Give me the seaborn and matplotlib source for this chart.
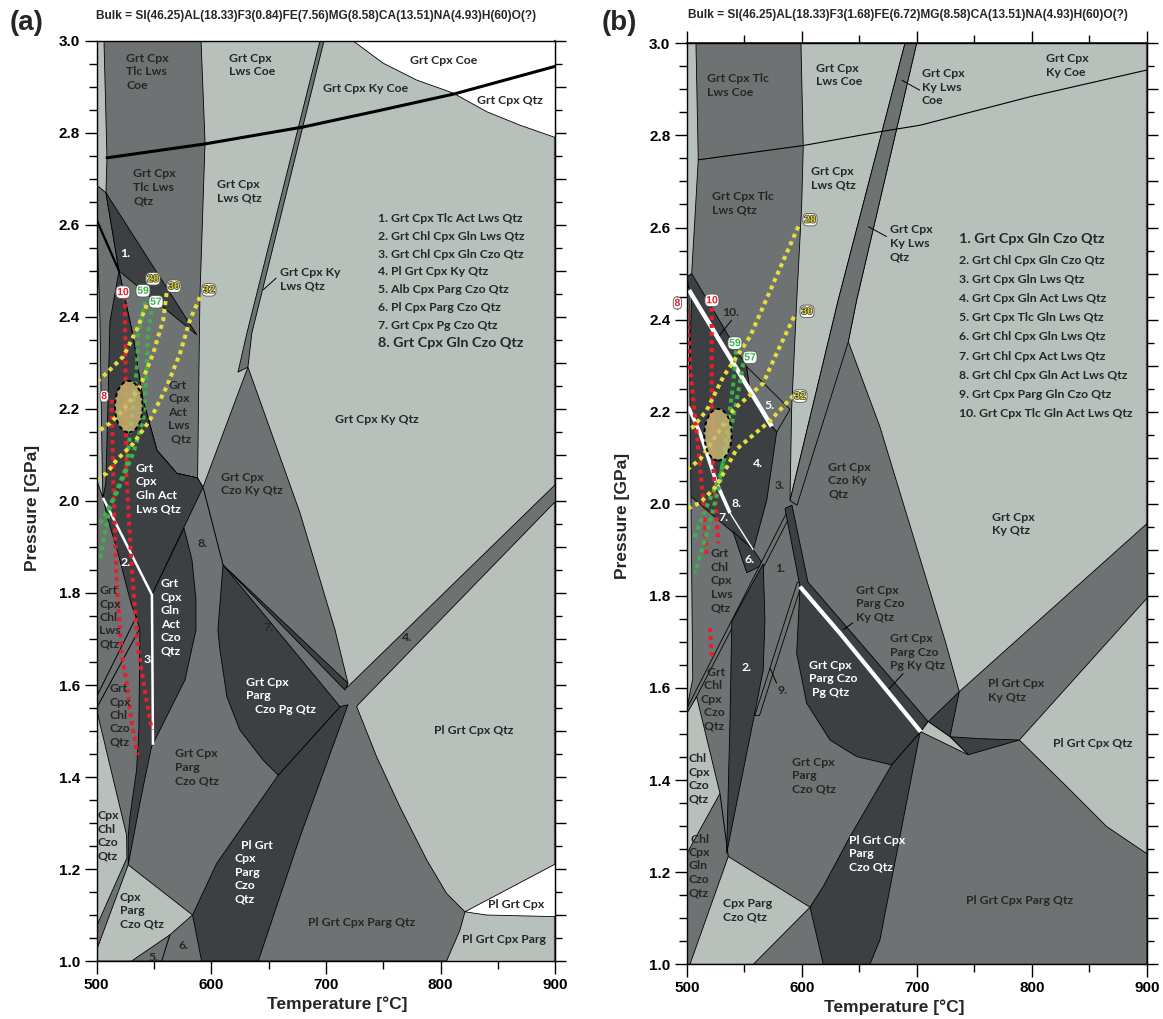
import matplotlib
matplotlib.use("Agg")
import matplotlib.pyplot as plt
import matplotlib.patheffects as pe
from matplotlib.patches import Ellipse
from matplotlib.ticker import MultipleLocator, FormatStrFormatter
import seaborn as sns

sns.set_theme(style="ticks")
plt.rcParams["font.family"] = ["Liberation Sans", "DejaVu Sans"]
plt.rcParams["font.weight"] = "bold"
plt.rcParams["axes.labelweight"] = "bold"

LIGHT = "#b8c0bb"
MID = "#6f7273"
DARK = "#3d4043"
WHITE = "#ffffff"
TXT_D = "#262626"
TXT_W = "#ffffff"
RED = "#e3202b"
GREEN = "#3cb24a"
YELLOW = "#e4df3c"
LABEL_FONT = ["Lato", "DejaVu Sans"]

# ---------------- panel (a): assemblage fields, (T [°C], P [GPa]) vertices ----------------
a_column = [(506.4, 3.0), (591, 3.0), (594.5, 2.78), (590, 2.44), (588, 2.05), (570, 2.06),
            (552.6, 2.11), (540.4, 2.22), (531.6, 2.36), (519.5, 2.50), (508.1, 2.67), (509, 2.746)]
a_lower = [(500, 2.687), (508.1, 2.67), (519.5, 2.50), (531.6, 2.36), (540.4, 2.22), (552.6, 2.11),
           (570, 2.06), (588, 2.05), (592.7, 2.03), (631.9, 2.291), (677.3, 1.974), (707.8, 1.72),
           (719.1, 1.604), (717.6, 1.593), (900, 2.036), (900, 1.999), (727.8, 1.557), (726.7, 1.553),
           (744.1, 1.444), (764.4, 1.335), (787.7, 1.22), (805.1, 1.147), (821.1, 1.107),
           (816.7, 1.067), (805.1, 1.0), (500, 1.0)]
a_ky_strip = [(694.7, 3.0), (698.2, 3.0), (635.3, 2.365), (631.9, 2.291), (623.2, 2.28), (631.0, 2.365)]
a_wedge1 = [(508.1, 2.67), (587.4, 2.361), (519.5, 2.50)]
a_gln_act_lws = [(519.5, 2.50), (531.6, 2.36), (540.4, 2.22), (552.6, 2.11), (570, 2.06), (588, 2.05),
                 (592.7, 2.03), (548.2, 1.796), (505.5, 2.007), (508.1, 2.04), (511.6, 2.39)]
a_gln_czo = [(505.5, 2.007), (548.2, 1.796), (576.2, 1.941), (583.1, 1.872), (586.6, 1.785),
             (586.6, 1.72), (577, 1.611), (559.5, 1.524), (547.9, 1.466), (543.6, 1.415),
             (537.7, 1.343), (530.5, 1.248), (527.5, 1.209), (527.5, 1.27), (529, 1.313),
             (534.8, 1.415), (536.8, 1.502), (537.7, 1.72), (534.3, 1.748), (529.9, 1.778),
             (518.6, 1.887), (509.9, 1.959)]
a_pl_parg_czo = [(583.6, 1.1), (591.5, 1.0), (640.9, 1.0), (677.3, 1.27), (719.1, 1.557),
                 (712.2, 1.553), (658.3, 1.404), (604.6, 1.212)]
a_pg_czo = [(610.2, 1.861), (605.7, 1.72), (607.5, 1.676), (613.6, 1.574), (624.9, 1.502),
            (645, 1.437), (658.3, 1.404), (712.2, 1.553)]
a_pg_strip = [(610.2, 1.861), (719.1, 1.604), (716.5, 1.589)]
a_sliver = [(500, 2.611), (502.9, 2.393), (505, 2.05), (505.5, 2.007), (500, 2.046)]
a_cpx_chl_czo = [(500, 1.546), (526.1, 1.274), (526.4, 1.224), (500, 1.076)]
a_cpx_parg_czo = [(527.5, 1.209), (583.6, 1.1), (563.9, 1.057), (530.5, 1.0), (500, 1.0), (500, 1.024)]
a_coe_white = [(723.7, 3.0), (749.6, 2.952), (779, 2.915), (810.6, 2.887), (840.3, 2.846),
               (869, 2.817), (900, 2.79), (900, 3.0)]
a_pl_white = [(821.1, 1.107), (840, 1.1), (900, 1.0965), (900, 1.211)]

a_coe_qtz_T = [509, 594, 680, 745, 812, 900]
a_coe_qtz_P = [2.746, 2.776, 2.813, 2.848, 2.885, 2.945]
a_white_line = [(505.5, 2.007), (548.2, 1.796), (549.1, 1.47)]
a_black_lines = [
    [(500, 2.611), (519.5, 2.50)],
    [(593, 2.028), (610.2, 1.861)],
    [(500, 1.575), (535, 1.75)],
    [(500, 1.55), (537, 1.72)],
    [(556.7, 1.0), (563.9, 1.057)],
    [(656.7, 2.485), (645.2, 2.459)],
]

# sample P-T paths, panel (a)
a_red_8 = ([513.1, 514.5, 517.4, 521.8, 526.2, 529.9, 535.7], [2.22, 2.046, 1.828, 1.665, 1.607, 1.528, 1.448])
a_red_10 = ([524.5, 526, 530.4, 536.2, 542, 548], [2.463, 2.053, 1.864, 1.676, 1.589, 1.502])
a_green_59 = ([542.1, 536.3, 534.9, 526.2, 511.6, 502.9], [2.433, 2.365, 2.285, 2.075, 1.988, 1.872])
a_green_57 = ([549.1, 544.7, 543.6, 540.6, 531.9, 517.4, 501.4], [2.43, 2.365, 2.285, 2.176, 2.104, 2.017, 1.944])
a_yellow_28 = ([543.6, 534.9, 523.2, 508.7, 500], [2.426, 2.372, 2.314, 2.278, 2.259])
a_yellow_30 = ([561, 558, 549.3, 537.7, 531.9, 523.2, 511.6, 502.9], [2.452, 2.393, 2.321, 2.248, 2.227, 2.198, 2.169, 2.154])
a_yellow_32 = ([590, 581.3, 572.7, 561, 546.5, 531.9, 517.4, 508.7, 500], [2.443, 2.393, 2.321, 2.248, 2.176, 2.125, 2.089, 2.06, 2.049])
a_badges = [("8", 506.6, 2.228, RED), ("10", 522.9, 2.454, RED), ("59", 540.4, 2.457, GREEN),
            ("57", 551.7, 2.433, GREEN), ("28", 549.1, 2.483, YELLOW), ("30", 567.4, 2.467, YELLOW),
            ("32", 597.9, 2.459, YELLOW)]
a_ellipse = (528.0, 2.205, 24.1, 0.112)

a_labels = [
    ("Grt Cpx\nTlc Lws\nCoe", 525.6, 2.974, TXT_D), ("Grt Cpx\nLws Coe", 615.6, 2.974, TXT_D),
    ("Grt Cpx Coe", 773.1, 2.97, TXT_D), ("Grt Cpx Ky Coe", 697, 2.908, TXT_D),
    ("Grt Cpx Qtz", 831.3, 2.883, TXT_D), ("Grt Cpx\nTlc Lws\nQtz", 531.9, 2.723, TXT_D),
    ("Grt Cpx\nLws Qtz", 605.2, 2.70, TXT_D), ("1.", 520.3, 2.55, TXT_W),
    ("Grt Cpx Ky\nLws Qtz", 659.8, 2.509, TXT_D), ("Grt Cpx Ky Qtz", 707.8, 2.19, TXT_D),
    ("Grt\nCpx\nAct\nLws\n Qtz", 562.4, 2.263, TXT_D), ("Grt Cpx\nCzo Ky Qtz", 608.1, 2.064, TXT_D),
    ("Grt\nCpx\nGln Act\nLws Qtz", 534.3, 2.083, TXT_W), ("8.", 587.7, 1.919, TXT_D),
    ("2.", 520.9, 1.879, TXT_W), ("Grt\nCpx\nGln\nAct\nCzo\nQtz", 556.1, 1.832, TXT_W),
    ("Grt\nCpx\nChl\nLws\nQtz", 502.3, 1.817, TXT_D), ("7.", 645.2, 1.738, TXT_D),
    ("4.", 765.9, 1.716, TXT_D), ("3.", 541.2, 1.667, TXT_W),
    ("Grt Cpx\nParg\n   Czo Pg Qtz", 630.2, 1.618, TXT_W), ("Grt\nCpx\nChl\nCzo\nQtz", 511, 1.604, TXT_D),
    ("Pl Grt Cpx Qtz", 794, 1.513, TXT_D), ("Grt Cpx\nParg\nCzo Qtz", 568.3, 1.462, TXT_D),
    ("Cpx\nChl\nCzo\nQtz", 500.6, 1.328, TXT_D), ("  Pl Grt\nCpx\nParg\nCzo\nQtz", 620.6, 1.263, TXT_W),
    ("Cpx\nParg\nCzo Qtz", 520.3, 1.151, TXT_D), ("Pl Grt Cpx Parg Qtz", 684.5, 1.096, TXT_D),
    ("Pl Grt Cpx", 841.4, 1.134, TXT_D), ("Pl Grt Cpx Parg", 818.7, 1.059, TXT_D),
    ("6.", 571.2, 1.046, TXT_D), ("5.", 545, 1.02, TXT_D),
]
a_key = ["1. Grt Cpx Tlc Act Lws Qtz", "2. Grt Chl Cpx Gln Lws Qtz", "3. Grt Chl Cpx Gln Czo Qtz",
         "4. Pl Grt Cpx Ky Qtz", "5. Alb Cpx Parg Czo Qtz", "6. Pl Cpx Parg Czo Qtz",
         "7. Grt Cpx Pg Czo Qtz", "8. Grt Cpx Gln Czo Qtz"]

# ---------------- panel (b) ----------------
b_main = [(500, 2.49), (504.1, 2.50), (507.8, 2.66), (509.8, 2.747), (507.8, 3.0), (599.1, 3.0),
          (601.1, 2.775), (599.7, 2.645), (595.4, 2.44), (591.0, 2.205), (589.6, 2.007),
          (631.6, 2.443), (689.6, 3.0), (699.7, 3.0), (647.6, 2.443), (640.3, 2.352),
          (667.8, 2.167), (724.3, 1.704), (736.8, 1.592), (900, 1.957), (900, 1.795),
          (789, 1.487), (830.2, 1.386), (865, 1.299), (900, 1.24), (900, 1.0), (500, 1.0)]
b_ky_strip = [(689.6, 3.0), (699.7, 3.0), (647.6, 2.443), (640.3, 2.352), (595.7, 1.997),
              (589.6, 2.007), (631.6, 2.443)]
b_band10 = [(500, 2.493), (504.1, 2.50), (551.9, 2.298), (554.8, 2.246), (501.7, 2.464)]
b_field5 = [(551.9, 2.298), (589.6, 2.205), (578, 2.156), (573.7, 2.168), (554.8, 2.246)]
b_field4 = [(504, 2.452), (573.7, 2.168), (578, 2.156), (569.4, 2.008), (557.7, 1.9), (537.4, 1.98),
            (525.8, 2.045), (511.3, 2.154), (501.1, 2.211), (503, 2.35)]
b_field78 = [(501.1, 2.211), (511.3, 2.154), (525.8, 2.045), (537.4, 1.98), (557.7, 1.9), (500, 2.023)]
b_field6 = [(540, 1.94), (557.7, 1.9), (566.3, 1.868), (552, 1.85)]
b_diag_band = [(500, 1.556), (589.6, 1.995), (592, 1.985), (500, 1.541)]
b_field2 = [(539, 1.745), (566.3, 1.87), (567.8, 1.748), (566.3, 1.639), (557.7, 1.53),
            (543.2, 1.35), (534.5, 1.241), (537.4, 1.53)]
b_band9 = [(559, 1.54), (596, 1.83), (600, 1.828), (563, 1.54)]
b_dark_strip = [(585.2, 1.99), (591.3, 1.997), (605.2, 1.83), (709.8, 1.527), (703.2, 1.505), (598.3, 1.82)]
b_pg_czo = [(598.3, 1.82), (595.4, 1.675), (604.1, 1.567), (624.4, 1.487), (647.6, 1.451),
            (678, 1.433), (703.2, 1.505), (633, 1.719)]
b_pl_parg_czo = [(607, 1.124), (618.5, 1.169), (641.7, 1.277), (678, 1.433), (703.2, 1.505),
                 (702.6, 1.502), (667.8, 1.053), (659.1, 1.0), (618.5, 1.0)]
b_dark_tri = [(709.8, 1.527), (736.8, 1.592), (728.7, 1.494)]
b_lens = [(728.7, 1.494), (755, 1.49), (789, 1.487), (744.6, 1.455)]
b_light_tri = [(703.2, 1.505), (709.8, 1.527), (728.7, 1.494), (744.6, 1.455)]
b_sliver = [(500, 2.47), (501.6, 2.47), (503.5, 2.0), (505, 1.62), (500, 1.556)]
b_chl_cpx_czo = [(500, 1.545), (508.4, 1.581), (528.7, 1.371), (500, 1.241)]
b_cpx_parg_czo = [(535.9, 1.234), (607, 1.124), (557.7, 1.0), (502.6, 1.0)]

b_coe_qtz_T = [509.8, 601.1, 667.8, 702.6, 800, 900]
b_coe_qtz_P = [2.747, 2.778, 2.808, 2.822, 2.885, 2.942]
b_white_lines = [
    ([(501.7, 2.464), (573.7, 2.168)], 3.2),
    ([(501.1, 2.211), (511.3, 2.154), (525.8, 2.045), (537.4, 1.98)], 2.6),
    ([(537.4, 1.98), (557.7, 1.9)], 1.0),
    ([(598.3, 1.82), (633, 1.719), (703.2, 1.505)], 3.0),
]
b_black_lines = [
    [(528.7, 1.371), (535.9, 1.234)],
    [(538.9, 2.399), (527.3, 2.363)],
    [(686.7, 2.92), (702.6, 2.898)],
    [(657.7, 2.602), (673.7, 2.58)],
    [(644.4, 1.742), (635.7, 1.726)],
    [(688.2, 1.632), (673.7, 1.593)],
    [(572.2, 1.643), (578, 1.61)],
]

b_red_8 = ([500.3, 502.6, 508.4, 514.2, 517.1], [2.423, 2.298, 2.153, 2.007, 1.885])
b_red_10 = ([521.5, 521.5, 522.9, 527.2], [2.443, 2.226, 2.081, 1.914])
b_red_10_low = ([520, 521.5], [1.73, 1.668])
b_green_59 = ([542.6, 540.3, 534.5, 528.7, 517.1, 507], [2.333, 2.261, 2.152, 2.044, 1.935, 1.849])
b_green_57 = ([549, 543.2, 537.4, 528.7, 515.7, 505.5], [2.305, 2.225, 2.153, 2.059, 1.986, 1.921])
b_yellow_28 = ([596.8, 554.8, 531.6, 517.1, 505.5, 500], [2.602, 2.363, 2.276, 2.203, 2.167, 2.16])
b_yellow_30 = ([593, 578, 566.3, 540.3, 522.9, 511.3, 500], [2.406, 2.327, 2.262, 2.204, 2.139, 2.096, 2.074])
b_yellow_32 = ([592.4, 572.2, 543.2, 525.8, 511.3, 500.9], [2.235, 2.18, 2.119, 2.039, 2.002, 1.99])
b_badges = [("8", 491.7, 2.436, RED), ("10", 521.7, 2.442, RED), ("59", 541.7, 2.349, GREEN),
            ("57", 554.8, 2.318, GREEN), ("28", 607, 2.617, YELLOW), ("30", 604.4, 2.418, YELLOW),
            ("32", 598.3, 2.234, YELLOW)]
b_ellipse = (527.0, 2.15, 23.7, 0.112)

b_labels = [
    ("Grt Cpx Tlc\nLws Coe", 517.7, 2.935, TXT_D), ("Grt Cpx\nLws Coe", 612.2, 2.958, TXT_D),
    ("Grt Cpx\nKy Lws\nCoe", 704.1, 2.946, TXT_D), ("Grt Cpx\nKy Coe", 812.2, 2.978, TXT_D),
    ("Grt Cpx\nLws Qtz", 607.6, 2.734, TXT_D), ("Grt Cpx Tlc\nLws Qtz", 521.5, 2.68, TXT_D),
    ("Grt Cpx\nKy Lws\nQtz", 676.5, 2.607, TXT_D), ("10.", 531, 2.428, TXT_D),
    ("5.", 567, 2.225, TXT_W), ("4.", 557.7, 2.099, TXT_W), ("3.", 576.5, 2.052, TXT_D),
    ("8.", 538.9, 2.012, TXT_W), ("7.", 527.2, 1.983, TXT_W), ("6.", 550.4, 1.892, TXT_W),
    ("1.", 576.5, 1.871, TXT_D), ("Grt Cpx\nCzo Ky\nQtz", 622.9, 2.091, TXT_D),
    ("Grt Cpx\nKy Qtz", 765, 1.983, TXT_D), ("Grt\nChl\nCpx\nLws\nQtz", 520.6, 1.903, TXT_D),
    ("Grt Cpx\nParg Czo\nKy Qtz", 646.7, 1.824, TXT_D), ("Grt Cpx\nParg Czo\nPg Ky Qtz", 676.5, 1.719, TXT_D),
    ("Pl Grt Cpx\nKy Qtz", 762, 1.621, TXT_D), ("Pl Grt Cpx Qtz", 818.5, 1.491, TXT_D),
    ("2.", 547.6, 1.657, TXT_W), ("9.", 579.1, 1.606, TXT_D),
    ("Grt Cpx\nParg Czo\n Pg Qtz", 606.4, 1.661, TXT_W), ("  Grt\n Chl\nCpx\n Czo\n Qtz", 512, 1.646, TXT_D),
    ("Chl\nCpx\nCzo\nQtz", 501.5, 1.458, TXT_D), ("Grt Cpx\nParg\nCzo Qtz", 591, 1.451, TXT_D),
    (" Chl\nCpx\nGln\nCzo\nQtz", 501, 1.284, TXT_D), ("Pl Grt Cpx\nParg\nCzo Qtz", 641.1, 1.281, TXT_W),
    ("Cpx Parg\nCzo Qtz", 531.6, 1.143, TXT_D), ("Pl Grt Cpx Parg Qtz", 742.6, 1.15, TXT_D),
]
b_key = ["1. Grt Cpx Gln Czo Qtz", "2. Grt Chl Cpx Gln Czo Qtz", "3. Grt Cpx Gln Lws Qtz",
         "4. Grt Cpx Gln Act Lws Qtz", "5. Grt Cpx Tlc Gln Lws Qtz", "6. Grt Chl Cpx Gln Lws Qtz",
         "7. Grt Chl Cpx Act Lws Qtz", "8. Grt Chl Cpx Gln Act Lws Qtz", "9. Grt Cpx Parg Gln Czo Qtz",
         "10. Grt Cpx Tlc Gln Act Lws Qtz"]

bulk_a = "Bulk = SI(46.25)AL(18.33)F3(0.84)FE(7.56)MG(8.58)CA(13.51)NA(4.93)H(60)O(?)"
bulk_b = "Bulk = SI(46.25)AL(18.33)F3(1.68)FE(6.72)MG(8.58)CA(13.51)NA(4.93)H(60)O(?)"


def field(ax, pts, color, z=2, lw=0.6):
    xs = [p[0] for p in pts]
    ys = [p[1] for p in pts]
    ax.fill(xs, ys, facecolor=color, edgecolor="black", linewidth=lw, zorder=z)


def polyline(ax, pts, color="black", lw=0.6, z=4):
    ax.plot([p[0] for p in pts], [p[1] for p in pts], color=color, lw=lw, zorder=z,
            solid_capstyle="butt")


def path(ax, tp, color):
    sns.lineplot(x=tp[0], y=tp[1], sort=False, estimator=None, ax=ax, color=color,
                 lw=2.9, linestyle=(0, (1.0, 1.0)), zorder=6, legend=False)


def badge(ax, txt, t, p, color):
    edge = "#3a3a3a" if color == YELLOW else "white"
    tcol = "#d8d22a" if color == YELLOW else color
    ax.text(t, p, txt, color=tcol, fontsize=7.5, fontweight="bold", ha="center", va="center",
            family=["Liberation Sans"], zorder=9, clip_on=False,
            path_effects=[pe.withStroke(linewidth=1.0, foreground=edge)],
            bbox=dict(boxstyle="round,pad=0.12,rounding_size=0.45", fc="white", ec="#555555", lw=0.6))


def region_label(ax, txt, t, p, color, size=8.8):
    ax.text(t, p, txt, color=color, fontsize=size, fontweight="bold", family=LABEL_FONT,
            ha="left", va="top", linespacing=1.27, zorder=8)


def frame(ax, top_ticks):
    ax.set_xlim(500, 900)
    ax.set_ylim(1.0, 3.0)
    ax.set_facecolor(LIGHT)
    ax.xaxis.set_major_locator(MultipleLocator(100))
    ax.xaxis.set_minor_locator(MultipleLocator(50))
    ax.yaxis.set_major_locator(MultipleLocator(0.2))
    ax.yaxis.set_minor_locator(MultipleLocator(0.05))
    ax.yaxis.set_major_formatter(FormatStrFormatter("%.1f"))
    ax.tick_params(which="major", direction="out", length=9, width=1.0, labelsize=11,
                   color="black", labelcolor="black", pad=3)
    ax.tick_params(which="minor", direction="out", length=5.5, width=1.0, color="black")
    for s in ax.spines.values():
        s.set_color("black")
        s.set_linewidth(1.0)
        s.set_zorder(10)
    ry = ax.secondary_yaxis("right")
    ry.yaxis.set_major_locator(MultipleLocator(0.1))
    ry.yaxis.set_minor_locator(MultipleLocator(0.05))
    ry.tick_params(which="major", direction="out", length=8, width=1.0, labelright=False, color="black")
    ry.tick_params(which="minor", direction="out", length=5, width=1.0, color="black")
    ry.spines["right"].set_color("#555555")
    ry.spines["right"].set_linewidth(1.6)
    if top_ticks:
        tx = ax.secondary_xaxis("top")
        tx.xaxis.set_major_locator(MultipleLocator(100))
        tx.xaxis.set_minor_locator(MultipleLocator(50))
        tx.tick_params(which="major", direction="out", length=9, width=1.0, labeltop=False, color="black")
        tx.tick_params(which="minor", direction="out", length=5.5, width=1.0, color="black")
    ax.set_xlabel("Temperature [°C]", fontsize=12.5, fontweight="bold")
    ax.set_ylabel("Pressure [GPa]", fontsize=12.5, fontweight="bold")
    ax.grid(False)


fig = plt.figure(figsize=(11.63, 10.19), dpi=100)
ax_a = fig.add_axes([0.0831, 0.0569, 0.3945, 0.9029])
ax_b = fig.add_axes([0.5907, 0.0537, 0.3955, 0.9038])

# ---- panel (a)
frame(ax_a, top_ticks=False)
for pts, col in [(a_column, MID), (a_lower, MID), (a_ky_strip, MID), (a_wedge1, DARK),
                 (a_gln_act_lws, DARK), (a_gln_czo, DARK), (a_pl_parg_czo, DARK), (a_pg_czo, DARK),
                 (a_pg_strip, DARK), (a_sliver, LIGHT), (a_cpx_chl_czo, LIGHT),
                 (a_cpx_parg_czo, LIGHT), (a_coe_white, WHITE), (a_pl_white, WHITE)]:
    field(ax_a, pts, col)
for pts in a_black_lines:
    polyline(ax_a, pts, lw=0.7)
polyline(ax_a, a_black_lines[0], lw=1.6)
ax_a.plot(a_coe_qtz_T, a_coe_qtz_P, color="black", lw=2.2, zorder=5)
polyline(ax_a, a_white_line, color="white", lw=1.8, z=5)
for tp, c in [(a_red_8, RED), (a_red_10, RED), (a_green_59, GREEN), (a_green_57, GREEN),
              (a_yellow_28, YELLOW), (a_yellow_30, YELLOW), (a_yellow_32, YELLOW)]:
    path(ax_a, tp, c)
ax_a.add_patch(Ellipse(a_ellipse[:2], a_ellipse[2], a_ellipse[3], facecolor=(0.80, 0.72, 0.45, 0.82),
                       edgecolor="black", linestyle=(0, (2, 1.5)), lw=1.4, zorder=7))
for txt, t, p, c in a_labels:
    region_label(ax_a, txt, t, p, c)
for i, line in enumerate(a_key[:7]):
    region_label(ax_a, line, 745.5, 2.626 - i * 0.0387, TXT_D)
region_label(ax_a, a_key[7], 745.5, 2.357, TXT_D, size=10.4)
for b in a_badges:
    badge(ax_a, *b)
ax_a.xaxis.set_label_coords(0.525, -0.039)
ax_a.yaxis.set_label_coords(-0.124, 0.492)

# ---- panel (b)
frame(ax_b, top_ticks=True)
for pts, col in [(b_main, MID), (b_ky_strip, MID), (b_band10, DARK), (b_field5, MID),
                 (b_field4, DARK), (b_field78, DARK), (b_field6, DARK), (b_diag_band, MID),
                 (b_field2, DARK), (b_band9, MID), (b_dark_strip, DARK), (b_pg_czo, DARK),
                 (b_pl_parg_czo, DARK), (b_dark_tri, DARK), (b_lens, DARK), (b_light_tri, LIGHT),
                 (b_sliver, LIGHT), (b_chl_cpx_czo, LIGHT), (b_cpx_parg_czo, LIGHT)]:
    field(ax_b, pts, col)
ax_b.plot(b_coe_qtz_T, b_coe_qtz_P, color="black", lw=0.8, zorder=5)
for pts in b_black_lines:
    polyline(ax_b, pts, lw=0.7)
for pts, w in b_white_lines:
    polyline(ax_b, pts, color="white", lw=w, z=5)
for tp, c in [(b_red_8, RED), (b_red_10, RED), (b_red_10_low, RED), (b_green_59, GREEN),
              (b_green_57, GREEN), (b_yellow_28, YELLOW), (b_yellow_30, YELLOW), (b_yellow_32, YELLOW)]:
    path(ax_b, tp, c)
ax_b.add_patch(Ellipse(b_ellipse[:2], b_ellipse[2], b_ellipse[3], facecolor=(0.80, 0.72, 0.45, 0.82),
                       edgecolor="black", linestyle=(0, (2, 1.5)), lw=1.4, zorder=7))
for txt, t, p, c in b_labels:
    region_label(ax_b, txt, t, p, c)
region_label(ax_b, b_key[0], 736.8, 2.587, TXT_D, size=10.4)
for i, line in enumerate(b_key[1:]):
    region_label(ax_b, line, 736.8, 2.541 - i * 0.0417, TXT_D)
for b in b_badges:
    badge(ax_b, *b)
ax_b.xaxis.set_label_coords(0.4515, -0.0377)
ax_b.yaxis.set_label_coords(-0.124, 0.4868)

fig.text(316.2 / 1163, 1 - 16 / 1019, bulk_a, ha="center", va="center", fontsize=8.6, fontweight="bold")
fig.text(907.8 / 1163, 1 - 15 / 1019, bulk_b, ha="center", va="center", fontsize=8.6, fontweight="bold")
fig.text(26.5 / 1163, 1 - 23.5 / 1019, "(a)", ha="center", va="center", fontsize=20, fontweight="bold")
fig.text(619 / 1163, 1 - 23.5 / 1019, "(b)", ha="center", va="center", fontsize=20, fontweight="bold")

fig.savefig("out.png", dpi=100)
